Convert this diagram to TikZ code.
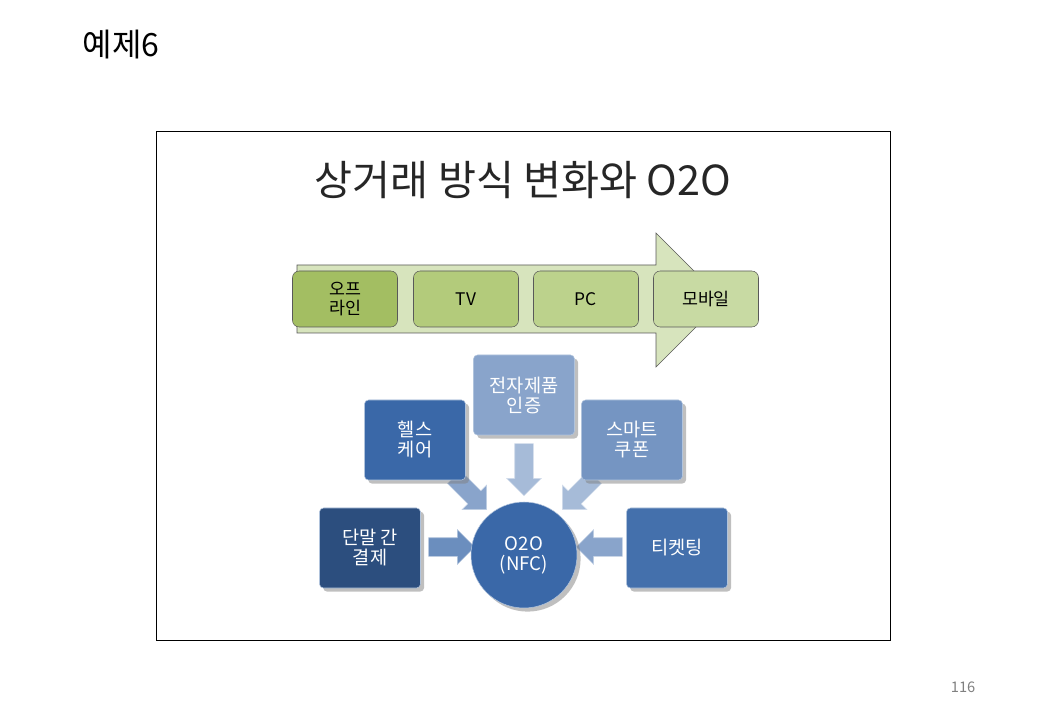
\documentclass[tikz,border=0pt]{standalone}
\usepackage{fontspec}
\setmainfont{Noto Sans CJK KR}
\usetikzlibrary{shapes.arrows,shadows}
\definecolor{stepgreen}{HTML}{D7E4BD}
\definecolor{boxblue}{HTML}{3A68A8}
\definecolor{olivea}{HTML}{A3BE62}
\definecolor{oliveb}{HTML}{B3CB7B}
\definecolor{olivec}{HTML}{BCD28C}
\definecolor{olived}{HTML}{C8DAA3}
\tikzset{
  stage/.style={draw=gray!70!black, rounded corners=5pt, minimum width=105*0.75pt, minimum height=56*0.75pt, font=\fontsize{13}{14}\selectfont, align=center, inner sep=1pt},
  card/.style={draw=white!60!boxblue, rounded corners=3pt, minimum width=101*0.75pt, minimum height=80*0.75pt, text=white, font=\fontsize{14}{15}\selectfont, align=center, drop shadow},
  flow/.style={single arrow, fill=#1, draw=white!50!#1, minimum height=46*0.75pt, inner xsep=0pt, inner ysep=9*0.75pt, single arrow head extend=8*0.75pt}
}
\begin{document}
\begin{tikzpicture}[x=0.75pt, y=-0.75pt]
\useasboundingbox (0,0) rectangle (1040,720);
\node[anchor=west, font=\fontsize{24}{26}\selectfont] (head) at (78,45) {예제6};
\node[anchor=east, text=gray, font=\fontsize{11}{12}\selectfont] (page) at (980,687) {116};
\draw (156,131) rectangle (890,640);
\node[font=\fontsize{31}{33}\selectfont\addfontfeature{FakeStretch=1.0}, text=black!85] (title) at (523,180) {상거래 방식 변화와 O2O};

% time line
\draw[draw=gray!70!black, fill=stepgreen] (297,265) -- (656,265) -- (656,233) -- (723,300)
  -- (656,367) -- (656,333) -- (297,333) -- cycle;
\node[stage, fill=olivea] (off) at (345,299) {오프\\라인};
\node[stage, fill=oliveb] (tv) at (466,299) {TV};
\node[stage, fill=olivec] (pc) at (586,299) {PC};
\node[stage, fill=olived] (mob) at (706,299) {모바일};

% o2o hub
\node[flow=boxblue!60!white, rotate=-45] (a1) at (467,490) {};
\node[flow=boxblue!45!white, rotate=-90, minimum height=52*0.75pt] (a2) at (524,465) {};
\node[flow=boxblue!45!white, rotate=-135] (a3) at (582,490) {};
\node[flow=boxblue!75!white] (a4) at (447,547) {};
\node[flow=boxblue!60!white, rotate=180] (a5) at (604,547) {};

\node[circle, fill=boxblue, draw=white!60!boxblue, minimum size=106*0.75pt, text=white, align=center,
  font=\fontsize{14}{15}\selectfont, drop shadow] (o2o) at (524,555) {O2O\\(NFC)};
\node[card, fill=boxblue] (care) at (415,440) {헬스\\케어};
\node[card, fill=boxblue!60!white] (cert) at (524,395) {전자제품\\인증};
\node[card, fill=boxblue!70!white] (coupon) at (632,440) {스마트\\쿠폰};
\node[card, fill=boxblue!75!black] (pay) at (370,548) {단말 간\\결제};
\node[card, fill=boxblue!95!white] (ticket) at (677,548) {티켓팅};
\end{tikzpicture}
\end{document}
